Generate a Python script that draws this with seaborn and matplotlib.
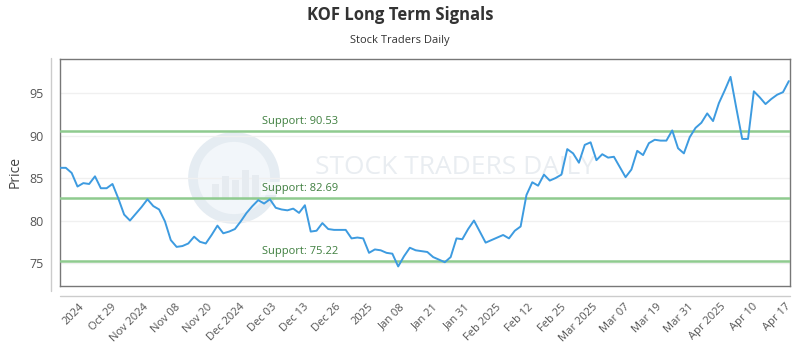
import numpy as np
import pandas as pd
import matplotlib
matplotlib.use("Agg")
import matplotlib.pyplot as plt
import seaborn as sns
from matplotlib.lines import Line2D
from matplotlib.patches import Circle, Rectangle
from matplotlib.transforms import IdentityTransform

title = "KOF Long Term Signals"
subtitle = "Stock Traders Daily"
y_label = "Price"

prices = [
    86.2, 86.2, 85.6, 84.0, 84.4, 84.3, 85.2, 83.8, 83.8, 84.3,
    82.6, 80.7, 80.0, 80.8, 81.6, 82.5, 81.7, 81.3, 79.9, 77.7,
    76.9, 77.0, 77.3, 78.1, 77.5, 77.3, 78.3, 79.4, 78.5, 78.7,
    79.0, 79.9, 80.9, 81.7, 82.4, 82.0, 82.5, 81.5, 81.3, 81.2,
    81.4, 80.9, 81.8, 78.7, 78.8, 79.7, 79.0, 78.9, 78.9, 78.9,
    77.9, 78.0, 77.9, 76.2, 76.6, 76.5, 76.2, 76.1, 74.6, 75.8,
    76.8, 76.5, 76.4, 76.3, 75.7, 75.4, 75.1, 75.7, 77.9, 77.8,
    79.0, 80.0, 78.7, 77.4, 77.7, 78.0, 78.3, 77.9, 78.8, 79.3,
    83.0, 84.5, 84.1, 85.4, 84.7, 85.0, 85.4, 88.4, 87.9, 86.8,
    88.9, 89.2, 87.1, 87.8, 87.4, 87.5, 86.3, 85.1, 86.0, 88.2,
    87.7, 89.1, 89.5, 89.4, 89.4, 90.6, 88.5, 87.9, 89.8, 90.9,
    91.5, 92.6, 91.7, 93.8, 95.3, 96.9, 93.2, 89.6, 89.6, 95.2,
    94.5, 93.7, 94.3, 94.8, 95.1, 96.4,
]

tick_labels = [
    "2024", "Oct 29", "Nov 2024", "Nov 08", "Nov 20", "Dec 2024", "Dec 03",
    "Dec 13", "Dec 26", "2025", "Jan 08", "Jan 21", "Jan 31", "Feb 2025",
    "Feb 12", "Feb 25", "Mar 2025", "Mar 07", "Mar 19", "Mar 31",
    "Apr 2025", "Apr 10", "Apr 17",
]

support_levels = [90.53, 82.69, 75.22]
y_ticks = [75, 80, 85, 90, 95]

sns.set_theme(style="white")
plt.rcParams["font.family"] = ["Open Sans", "DejaVu Sans"]

W, H = 800, 350
fig = plt.figure(figsize=(8, 3.5), dpi=100)
ax = fig.add_axes([60 / W, 1 - 286 / H, 730 / W, 227 / H])

df = pd.DataFrame({"idx": np.arange(len(prices)), "price": prices})

# watermark
ax.add_patch(Circle((234, H - 178), 41, transform=IdentityTransform(),
                    facecolor="#f2f6fa", edgecolor="#e5ecf2", lw=7, zorder=0.5))
for bx, bh in [(212, 16), (222, 24), (232, 20), (242, 30), (252, 25)]:
    ax.add_patch(Rectangle((bx, H - 200), 7, bh, transform=IdentityTransform(),
                           facecolor="#e6ebf0", edgecolor="none", zorder=0.6))
ax.text(0.541, 0.52, "STOCK TRADERS DAILY", transform=ax.transAxes,
        ha="center", va="center", fontsize=19, color="#e9edf1",
        zorder=0.7)

sns.lineplot(data=df, x="idx", y="price", ax=ax, color="#3d9be0",
             linewidth=1.4, zorder=5)

for s in support_levels:
    ax.axhline(s, color="#8fcb8f", lw=1.8, zorder=3)
    ax.text(34.6, s + 0.45, f"Support: {s:.2f}", color="#3f7f3f", fontsize=8,
            ha="left", va="bottom", zorder=4,
            bbox=dict(facecolor="white", alpha=0.6, edgecolor="none", pad=0.5))

ax.set_xlim(0, len(prices) - 1 + 0.2)
ax.set_ylim(72.3, 99.0)
ax.set_yticks(y_ticks)
ax.grid(axis="y", color="#f0f0f0", lw=1)
ax.grid(axis="x", visible=False)

tick_pos = np.linspace(3.9, len(prices) - 1, len(tick_labels))
ax.set_xticks(tick_pos)
ax.set_xticklabels(tick_labels, rotation=45, ha="right", va="center",
                   rotation_mode="anchor", fontsize=8, color="#555555")
ax.tick_params(axis="x", length=0, pad=14)
ax.tick_params(axis="y", length=0, pad=12, labelsize=9, labelcolor="#555555")

ax.set_xlabel("")
ax.set_ylabel(y_label, fontsize=10, color="#444444")
ax.yaxis.set_label_coords(-0.051, 0.5)

for sp in ax.spines.values():
    sp.set_visible(True)
    sp.set_color("#777777")
    sp.set_linewidth(1)

fig.add_artist(Line2D([51 / W, 51 / W], [1 - 58 / H, 1 - 291 / H],
                      color="#cccccc", lw=1))
fig.add_artist(Line2D([60 / W, 790 / W], [1 - 296 / H, 1 - 296 / H],
                      color="#cccccc", lw=1))

fig.text(0.5, 1 - 15 / H, title, ha="center", va="center", fontsize=12,
         fontweight="bold", color="#333333")
fig.text(0.5, 1 - 40 / H, subtitle, ha="center", va="center", fontsize=8,
         color="#333333")

fig.savefig("out.png", dpi=100)
